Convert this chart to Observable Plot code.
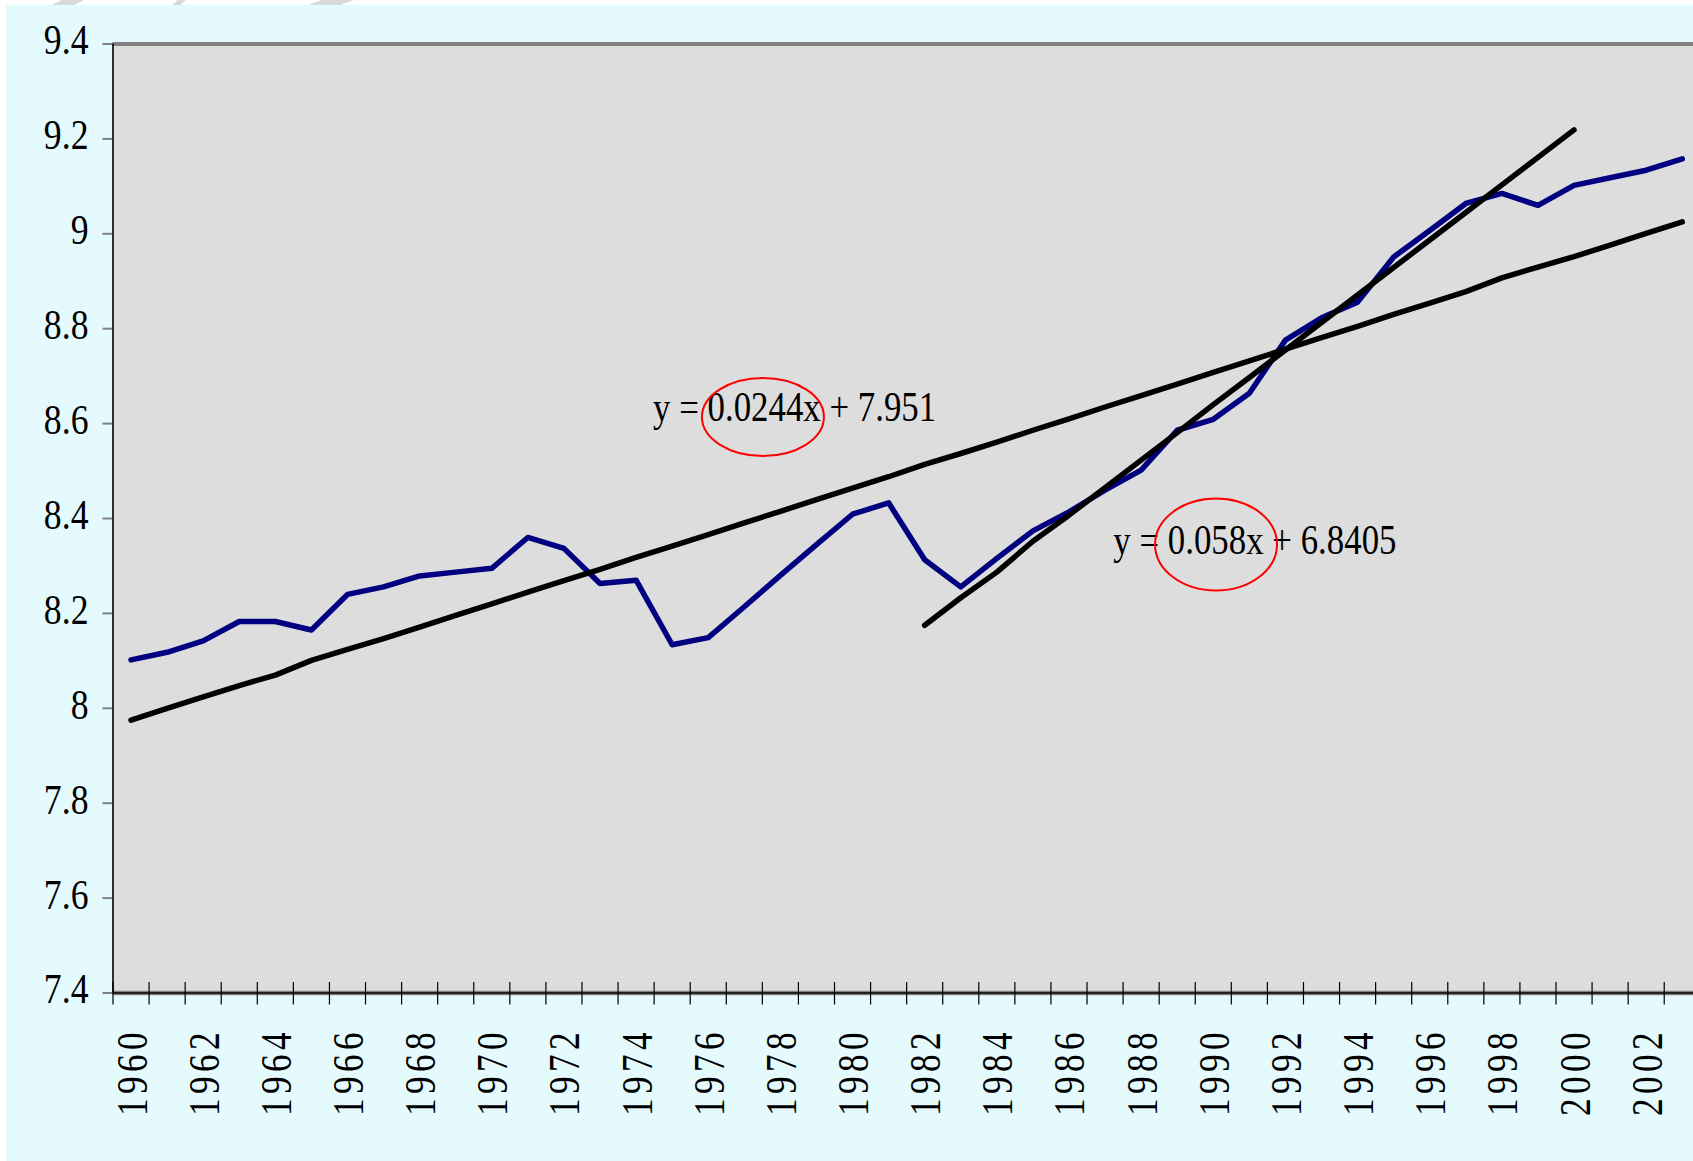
<!DOCTYPE html>
<html>
<head>
<meta charset="utf-8">
<script src="https://cdn.jsdelivr.net/npm/d3@7"></script>
<script src="https://cdn.jsdelivr.net/npm/@observablehq/plot@0.6"></script>
<style>
  html, body { margin: 0; padding: 0; background: #ffffff; overflow: hidden; width: 1693px; height: 1161px; }
  #bg { position: absolute; left: 6px; top: 5px; right: 0; bottom: 0; background: #E4FAFD; }
  .wm { position: absolute; top: 0; height: 5px; background: #d9d9d9; }
  #chart { position: absolute; left: 0; top: 0; }
</style>
</head>
<body>
<div id="bg"></div>
<div class="wm" style="left:52px;width:32px;clip-path:polygon(30% 0,100% 0,70% 100%,0 100%)"></div>
<div class="wm" style="left:172px;width:14px;clip-path:polygon(40% 0,100% 0,60% 100%,0 100%)"></div>
<div class="wm" style="left:308px;width:46px;clip-path:polygon(30% 0,100% 0,70% 100%,0 100%)"></div>
<div id="chart"></div>
<script>
// ---- data ----
const years = d3.range(1960, 2004);
const logSeries = [
  8.102, 8.118, 8.142, 8.183, 8.183, 8.165, 8.240, 8.256, 8.279, 8.287,
  8.295, 8.360, 8.337, 8.263, 8.270, 8.134, 8.149, 8.214, 8.280, 8.345,
  8.409, 8.433, 8.313, 8.256, 8.316, 8.374, 8.414, 8.460, 8.502, 8.586,
  8.609, 8.664, 8.776, 8.823, 8.856, 8.951, 9.007, 9.064, 9.085, 9.060,
  9.102, 9.118, 9.134, 9.158
];
const trendAllYears = years;
const trendAll = [
  7.975, 8.000, 8.024, 8.048, 8.070, 8.101, 8.124, 8.147, 8.171, 8.196,
  8.220, 8.245, 8.269, 8.293, 8.318, 8.342, 8.366, 8.391, 8.415, 8.440,
  8.464, 8.488, 8.514, 8.537, 8.561, 8.586, 8.610, 8.635, 8.659, 8.683,
  8.708, 8.732, 8.757, 8.781, 8.805, 8.830, 8.854, 8.878, 8.907, 8.930,
  8.952, 8.976, 9.001, 9.025
];
const trendLateYears = d3.range(1982, 2001);
const trendLate = [
  8.175, 8.233, 8.287, 8.352, 8.407, 8.465, 8.523, 8.581, 8.640, 8.697,
  8.755, 8.813, 8.871, 8.929, 8.987, 9.045, 9.103, 9.161, 9.219
];
const yTicks = [7.4, 7.6, 7.8, 8.0, 8.2, 8.4, 8.6, 8.8, 9.0, 9.2, 9.4];
const xLabelYears = years.filter(y => y % 2 === 0);
const equations = [
  {text: "y = 0.0244x + 7.951", x: 1974.47, y: 8.6065},
  {text: "y = 0.058x + 6.8405", x: 1987.23, y: 8.3256}
];
const circled = [
  {x: 1977.53, y: 8.6129},
  {x: 1990.09, y: 8.3442}
];

// ---- build rows ----
const mainRows = years.map((yr, i) => ({year: yr, v: logSeries[i]}));
const trendAllRows = trendAllYears.map((yr, i) => ({year: yr, v: trendAll[i]}));
const trendLateRows = trendLateYears.map((yr, i) => ({year: yr, v: trendLate[i]}));
const bounds = years.map(y => y - 0.5).concat([years[years.length - 1] + 0.5]);

const W = 1693, H = 1161;
const mL = 112.5, mT = 43.5, mB = 168.5, mR = 0;
const plotW = W - mL - mR, plotH = H - mT - mB;
const serif = "'Liberation Serif', 'Times New Roman', serif";
const ellipseSize = [[61, 39], [61, 46]];
const lineStyle = {strokeWidth: 5.5, strokeLinejoin: "round", strokeLinecap: "round"};

const chart = Plot.plot({
  width: W, height: H,
  marginTop: mT, marginBottom: mB, marginLeft: mL, marginRight: mR,
  style: {background: "transparent", overflow: "hidden", fontFamily: serif},
  x: {type: "linear", domain: [1959.5, 2003.5], range: [112.5, 1699.8], axis: null},
  y: {type: "linear", domain: [7.4, 9.4]},
  marks: [
    Plot.frame({fill: "#DDDDDD", stroke: null}),
    Plot.ruleY([9.4], {stroke: "#808080", strokeWidth: 4}),
    Plot.tickY(yTicks, {y: d => d, stroke: "#808080", strokeWidth: 2, insetLeft: -10, insetRight: plotW}),
    Plot.axisY(yTicks, {
      tickSize: 0, tickPadding: 24.5, tickFormat: d => String(Math.round(d * 10) / 10),
      fontSize: 42, fontFamily: serif, fill: "black", label: null, dy: -3
    }),
    Plot.ruleY([7.4], {stroke: "#808080", strokeWidth: 4.5}),
    Plot.ruleY([7.4], {stroke: "black", strokeWidth: 1.5}),
    Plot.tickX(bounds, {x: d => d, stroke: "black", strokeWidth: 1.2, insetTop: plotH - 10.5, insetBottom: -12}),
    Plot.ruleX([1959.5], {stroke: "black", strokeWidth: 1.6}),
    Plot.text(xLabelYears, {
      x: d => d, text: d => String(d), frameAnchor: "bottom", rotate: -90,
      textAnchor: "end", dy: 35, dx: 15.5, fontSize: 44, fontFamily: serif, fill: "black"
    }),
    Plot.line(mainRows, {x: "year", y: "v", stroke: "#000080", ...lineStyle}),
    Plot.line(trendAllRows, {x: "year", y: "v", stroke: "black", ...lineStyle}),
    Plot.line(trendLateRows, {x: "year", y: "v", stroke: "black", ...lineStyle}),
    Plot.text(equations, {
      x: "x", y: "y", text: "text", textAnchor: "start", lineAnchor: "bottom",
      fontSize: 43, fontFamily: serif, fill: "black"
    }),
    (index, scales) => {
      const sx = typeof scales.x === "function" ? scales.x : d3.scaleLinear([1959.5, 2003.5], [112.5, 1699.8]);
      const sy = typeof scales.y === "function" ? scales.y : d3.scaleLinear([7.4, 9.4], [H - mB, mT]);
      const g = d3.create("svg:g");
      circled.forEach((c, i) => {
        g.append("ellipse")
          .attr("cx", sx(c.x)).attr("cy", sy(c.y))
          .attr("rx", ellipseSize[i][0]).attr("ry", ellipseSize[i][1])
          .attr("fill", "none").attr("stroke", "#FF0000").attr("stroke-width", 2);
      });
      return g.node();
    }
  ]
});
document.getElementById("chart").appendChild(chart);

// condense the serif text horizontally like the original rendering
const condense = {42: [0.85, 0], 43: [0.81, 0], 44: [0.8, 5.5]};
chart.querySelectorAll("text").forEach(t => {
  const fs = Math.round(parseFloat(getComputedStyle(t).fontSize));
  const c = condense[fs];
  if (c) {
    if (c[1]) t.style.letterSpacing = c[1] + "px";
    const w = t.getComputedTextLength();
    t.setAttribute("textLength", (w * c[0]).toFixed(2));
    t.setAttribute("lengthAdjust", "spacingAndGlyphs");
  }
});
</script>
</body>
</html>
